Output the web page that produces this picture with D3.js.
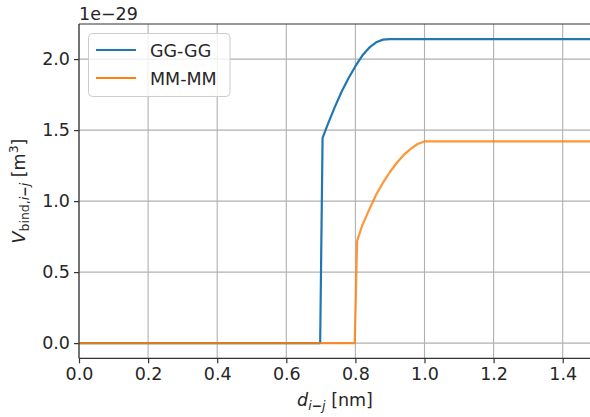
<!DOCTYPE html>
<html>
<head>
<meta charset="utf-8">
<script src="https://cdn.jsdelivr.net/npm/d3@7"></script>
<style>
  html, body { margin: 0; padding: 0; background: #fff; }
  svg { display: block; font-family: "DejaVu Sans", sans-serif; }
</style>
</head>
<body>
<svg id="chart" width="590" height="417"></svg>
<script>
// Binding volume versus inter-particle distance
const seriesNames = ["GG-GG", "MM-MM"];
const seriesColors = ["#1f77b4", "#ff7f0e"];

const distGG = [0, 0.698, 0.705, 0.72, 0.74, 0.76, 0.78, 0.80, 0.82, 0.84, 0.86, 0.88, 0.90, 1.5];
const volGG  = [0, 0, 1.445, 1.54, 1.66, 1.77, 1.865, 1.95, 2.025, 2.08, 2.118, 2.137, 2.141, 2.141];

const distMM = [0, 0.798, 0.805, 0.82, 0.84, 0.86, 0.88, 0.90, 0.92, 0.94, 0.96, 0.98, 1.0, 1.5];
const volMM  = [0, 0, 0.72, 0.83, 0.94, 1.045, 1.13, 1.205, 1.27, 1.325, 1.368, 1.402, 1.42, 1.42];

const xTicks = [0.0, 0.2, 0.4, 0.6, 0.8, 1.0, 1.2, 1.4];
const yTicks = [0.0, 0.5, 1.0, 1.5, 2.0];

const svg = d3.select("#chart");
const mLeft = 79, mTop = 24, mBottom = 358.3;
const x = d3.scaleLinear().domain([0, 1.5]).range([mLeft, mLeft + 1.5 * 345.5]);
const y = d3.scaleLinear().domain([-0.107, 2.247]).range([mBottom, mTop]);
const mRight = x(1.5);
const fs = 17.5;

svg.append("defs").append("clipPath").attr("id", "plot-clip")
  .append("rect").attr("x", mLeft).attr("y", mTop).attr("width", mRight - mLeft).attr("height", mBottom - mTop);

// grid
const grid = svg.append("g").attr("stroke", "#b0b0b0").attr("stroke-width", 1.1);
xTicks.forEach(t => grid.append("line").attr("x1", x(t)).attr("x2", x(t)).attr("y1", mTop).attr("y2", mBottom));
yTicks.forEach(t => grid.append("line").attr("x1", mLeft).attr("x2", mRight).attr("y1", y(t)).attr("y2", y(t)));

// lines
const line = d3.line().x(d => x(d[0])).y(d => y(d[1]));
const series = [d3.zip(distGG, volGG), d3.zip(distMM, volMM)];
const plot = svg.append("g").attr("clip-path", "url(#plot-clip)");
series.forEach((s, i) => {
  plot.append("path").datum(s).attr("d", line)
    .attr("fill", "none").attr("stroke", seriesColors[i])
    .attr("stroke-width", 2.2).attr("stroke-opacity", i === 1 ? 0.82 : 1)
    .attr("stroke-linejoin", "round").attr("stroke-linecap", "square");
});

// axes
const xAxis = d3.axisBottom(x).tickValues(xTicks).tickFormat(d3.format(".1f")).tickSize(5).tickPadding(4);
const yAxis = d3.axisLeft(y).tickValues(yTicks).tickFormat(d3.format(".1f")).tickSize(5).tickPadding(4);
const gx = svg.append("g").attr("transform", `translate(0,${mBottom})`).call(xAxis);
const gy = svg.append("g").attr("transform", `translate(${mLeft},0)`).call(yAxis);
[gx, gy].forEach(g => {
  g.select(".domain").remove();
  g.selectAll(".tick line").attr("stroke", "#333").attr("stroke-width", 1.2);
  g.selectAll(".tick text").attr("fill", "#262626").style("font-size", fs + "px")
    .style("font-family", "DejaVu Sans, sans-serif");
});

// spines
const spines = svg.append("g").attr("stroke", "#333").attr("stroke-width", 1.2);
spines.append("line").attr("x1", mLeft).attr("x2", mLeft).attr("y1", mTop).attr("y2", mBottom);
spines.append("line").attr("x1", mLeft).attr("x2", mRight).attr("y1", mBottom).attr("y2", mBottom);
spines.append("line").attr("x1", mLeft).attr("x2", mRight).attr("y1", mTop).attr("y2", mTop);

// offset text
svg.append("text").attr("x", mLeft).attr("y", 20).attr("fill", "#262626")
  .style("font-size", fs + "px").text("1e\u221229");

// x label
const xl = svg.append("text").attr("x", 335).attr("y", 406).attr("text-anchor", "middle")
  .attr("fill", "#262626").style("font-size", fs + "px");
xl.append("tspan").style("font-style", "italic").text("d");
xl.append("tspan").attr("dy", 4).style("font-size", "12.5px").style("font-style", "italic").text("i");
xl.append("tspan").style("font-size", "12.5px").style("font-weight", "bold").text("\u2212");
xl.append("tspan").style("font-size", "12.5px").style("font-style", "italic").text("j");
xl.append("tspan").attr("dy", -4).text(" [nm]");

// y label
const yl = svg.append("text").attr("transform", "translate(25,191) rotate(-90)").attr("text-anchor", "middle")
  .attr("fill", "#262626").style("font-size", fs + "px");
yl.append("tspan").style("font-style", "italic").text("V");
yl.append("tspan").attr("dy", 4).style("font-size", "12.5px").text("bind,");
yl.append("tspan").style("font-size", "12.5px").style("font-style", "italic").text("i");
yl.append("tspan").style("font-size", "12.5px").style("font-weight", "bold").text("\u2212");
yl.append("tspan").style("font-size", "12.5px").style("font-style", "italic").text("j");
yl.append("tspan").attr("dy", -4).text(" [m");
yl.append("tspan").attr("dy", -7).style("font-size", "12.5px").text("3");
yl.append("tspan").attr("dy", 7).text("]");

// legend
const lg = svg.append("g");
lg.append("rect").attr("x", 88.5).attr("y", 33.5).attr("width", 141.5).attr("height", 63)
  .attr("rx", 4).attr("fill", "#fff").attr("fill-opacity", 0.8).attr("stroke", "#cccccc").attr("stroke-width", 1);
seriesNames.forEach((n, i) => {
  const yy = 50 + i * 28;
  lg.append("line").attr("x1", 96).attr("x2", 136).attr("y1", yy).attr("y2", yy)
    .attr("stroke", seriesColors[i]).attr("stroke-width", 2.2);
  lg.append("text").attr("x", 150).attr("y", yy + 6.5).attr("fill", "#262626")
    .style("font-size", fs + "px").text(n);
});
</script>
</body>
</html>
